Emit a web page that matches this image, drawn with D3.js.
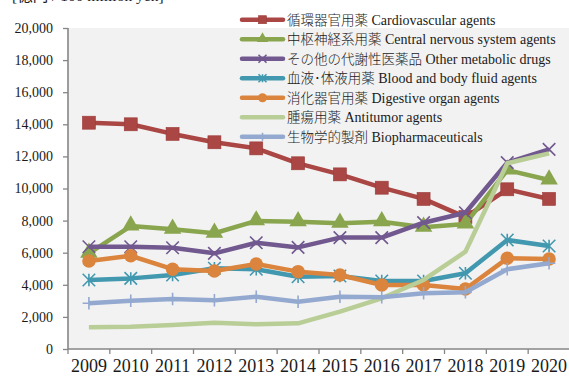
<!DOCTYPE html>
<html>
<head>
<meta charset="utf-8">
<script src="https://cdn.jsdelivr.net/npm/d3@7/dist/d3.min.js"></script>
<style>
  html, body { margin: 0; padding: 0; background: #fff; }
  svg { display: block; }
  text { font-family: "Liberation Serif", serif; fill: #1a1a1a; }
  .jp { font-family: "Noto Sans CJK JP", sans-serif; }
  .en { font-family: "Liberation Serif", serif; }
</style>
</head>
<body>
<svg id="chart" width="569" height="377"></svg>
<script>
// Sales by therapeutic category, 2009-2020 (100 million yen)
const years = ["2009","2010","2011","2012","2013","2014","2015","2016","2017","2018","2019","2020"];
const yTicks = [0, 2000, 4000, 6000, 8000, 10000, 12000, 14000, 16000, 18000, 20000];

const cardiovascular = [14100, 14000, 13400, 12880, 12500, 11570, 10880, 10050, 9350, 8220, 9950, 9350];
const cns            = [5960, 7660, 7460, 7210, 7980, 7930, 7830, 7930, 7580, 7790, 11150, 10530];
const metabolic      = [6370, 6370, 6310, 5960, 6620, 6330, 6940, 6940, 7870, 8490, 11610, 12440];
const blood          = [4300, 4400, 4610, 5030, 4970, 4500, 4550, 4240, 4240, 4720, 6790, 6420];
const digestive      = [5480, 5810, 4970, 4860, 5300, 4820, 4610, 3990, 3990, 3740, 5650, 5610];
const antitumor      = [1350, 1390, 1500, 1640, 1540, 1600, 2330, 3160, 4300, 6060, 11570, 12190];
const biopharma      = [2850, 3010, 3120, 3030, 3260, 2950, 3260, 3220, 3470, 3530, 4970, 5340];

const namesJa = ["循環器官用薬", "中枢神経系用薬", "その他の代謝性医薬品", "血液･体液用薬",
                 "消化器官用薬", "腫瘍用薬", "生物学的製剤"];
const namesEn = ["Cardiovascular agents", "Central nervous system agents", "Other metabolic drugs",
                 "Blood and body fluid agents", "Digestive organ agents", "Antitumor agents",
                 "Biopharmaceuticals"];
const seriesValues = [cardiovascular, cns, metabolic, blood, digestive, antitumor, biopharma];
const seriesColors = ["#AA4643", "#89A54E", "#71588F", "#4198AF", "#DB843D", "#B9CD96", "#93A9CF"];
const seriesMarkers = ["square", "triangle", "x", "asterisk", "circle", "none", "plus"];

const svg = d3.select("#chart");
const plot = { left: 68, right: 570, top: 28, bottom: 349 };

const x = d3.scaleBand().domain(years).range([plot.left, plot.right]);
const y = d3.scaleLinear().domain([0, 20000]).range([plot.bottom, plot.top]);
const cx = d => x(d) + x.bandwidth() / 2;

// unit label along the top edge
const unit = svg.append("text").attr("x", 12).attr("y", 1).style("font-size", "15.5px");
unit.append("tspan").text("[");
unit.append("tspan").attr("class", "jp").text("億円");
unit.append("tspan").text(" / 100 million yen]");

// plot area
svg.append("rect")
  .attr("x", plot.left).attr("y", plot.top)
  .attr("width", plot.right - plot.left).attr("height", plot.bottom - plot.top)
  .attr("fill", "#f2f2f2");

// axes
const axisColor = "#868686";
const yAxis = svg.append("g").attr("transform", `translate(${plot.left},0)`)
  .call(d3.axisLeft(y).tickValues(yTicks).tickSize(5).tickPadding(10).tickFormat(d3.format(",")));
const xAxis = svg.append("g").attr("transform", `translate(0,${plot.bottom})`)
  .call(d3.axisBottom(x).tickSize(0).tickPadding(10));
// tick marks on band boundaries
xAxis.selectAll(".bnd").data(years).enter().append("line")
  .attr("x1", d => x(d)).attr("x2", d => x(d)).attr("y1", 0).attr("y2", 5)
  .attr("stroke", axisColor).attr("stroke-width", 1.3);

[yAxis, xAxis].forEach(g => {
  g.select(".domain").attr("stroke", axisColor).attr("stroke-width", 1.6);
  g.selectAll(".tick line").attr("stroke", axisColor).attr("stroke-width", 1.3);
  g.selectAll("text").attr("fill", "#1a1a1a").style("font-family", "Liberation Serif, serif");
});
yAxis.select(".domain").attr("d", `M0,${plot.top}V${plot.bottom}`);
xAxis.select(".domain").attr("d", `M${plot.left},0H${plot.right}`);
yAxis.selectAll("text").style("font-size", "14px");
xAxis.selectAll("text").style("font-size", "18px");

// marker drawing
function drawMarker(g, type, color, s) {
  const h = s / 2;
  if (type === "square") {
    g.append("rect").attr("x", -h).attr("y", -h).attr("width", s).attr("height", s)
      .attr("fill", color).attr("stroke", "#9a3c39").attr("stroke-width", 0.6);
  } else if (type === "triangle") {
    g.append("path").attr("d", d3.symbol(d3.symbolTriangle, s * s * 0.85)())
      .attr("fill", color).attr("transform", `translate(0,${-s * 0.05})`);
  } else if (type === "circle") {
    g.append("circle").attr("r", h + 0.5).attr("fill", color);
  } else if (type === "x" || type === "asterisk") {
    let d = `M${-h},${-h}L${h},${h}M${-h},${h}L${h},${-h}`;
    if (type === "asterisk") d += `M0,${-h}L0,${h}`;
    g.append("path").attr("d", d).attr("stroke", color).attr("stroke-width", 1.6).attr("fill", "none");
  } else if (type === "plus") {
    g.append("path").attr("d", `M0,${-h}L0,${h}M${-h},0L${h},0`)
      .attr("stroke", color).attr("stroke-width", 1.6).attr("fill", "none");
  }
}

// series lines and markers
const line = d3.line().x((d, i) => cx(years[i])).y(d => y(d));
seriesValues.forEach((vals, k) => {
  const g = svg.append("g");
  g.append("path").datum(vals).attr("d", line)
    .attr("fill", "none").attr("stroke", seriesColors[k])
    .attr("stroke-width", 4.5).attr("stroke-linejoin", "round");
  vals.forEach((v, i) => {
    const m = g.append("g").attr("transform", `translate(${cx(years[i])},${y(v)})`);
    drawMarker(m, seriesMarkers[k], seriesColors[k], seriesMarkers[k] === "square" ? 13 : 12.5);
  });
});

// legend
const legend = svg.append("g");
namesJa.forEach((ja, k) => {
  const ly = 19.7 + k * 19.5;
  const row = legend.append("g").attr("transform", `translate(0,${ly})`);
  row.append("line").attr("x1", 242).attr("x2", 283).attr("y1", 0).attr("y2", 0)
    .attr("stroke", seriesColors[k]).attr("stroke-width", 4.5).attr("stroke-linecap", "round");
  const m = row.append("g").attr("transform", "translate(262.5,0)");
  drawMarker(m, seriesMarkers[k], seriesColors[k], 8);
  const t = row.append("text").attr("x", 287).attr("y", 5).style("font-size", "13.5px");
  t.append("tspan").attr("class", "jp").style("font-weight", 300).text(ja);
  t.append("tspan").attr("class", "en").style("font-size", "14px").text(" " + namesEn[k]);
});
</script>
</body>
</html>
